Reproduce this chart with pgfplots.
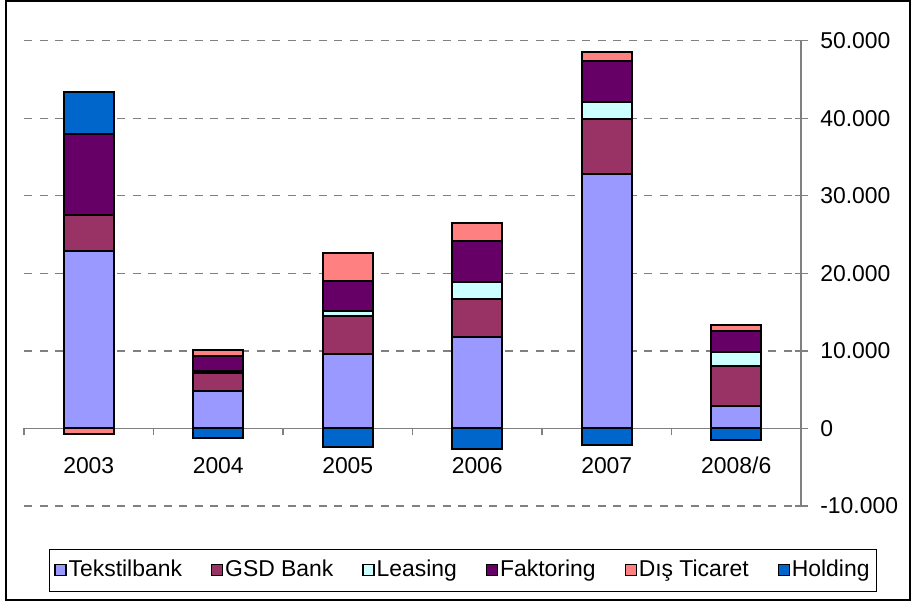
\documentclass[border=0pt]{standalone}
\usepackage{pgfplots}
\pgfplotsset{compat=1.18}
\usepackage{fontspec}
\setmainfont{Liberation Sans}
\definecolor{ctek}{HTML}{9999FF}
\definecolor{cgsd}{HTML}{993366}
\definecolor{cleas}{HTML}{CCFFFF}
\definecolor{cfakt}{HTML}{660066}
\definecolor{cdis}{HTML}{FF8080}
\definecolor{chold}{HTML}{0066CC}
\definecolor{axgray}{HTML}{808080}
\pgfplotsset{
  common/.style={
    at={(24bp,-506bp)}, anchor=south west,
    scale only axis, width=777bp, height=465.3bp,
    xmin=-0.5, xmax=5.5, ymin=-10000, ymax=50000,
    ybar stacked, bar width=50bp,
  },
  barstyle/.style={draw=black, line width=2bp, fill=#1},
}
\begin{document}
\fontsize{23}{27}\selectfont
\begin{tikzpicture}
\useasboundingbox (0bp,0bp) rectangle (911bp,-604bp);
\draw[line width=1.5bp] (6bp,-1bp) rectangle (910bp,-600bp);
\begin{axis}[
  common,
  axis x line*=middle, axis y line*=right,
  axis line style={draw=axgray, line width=1.2bp},
  xtick={0,1,2,3,4,5},
  xticklabels={2003,2004,2005,2006,2007,2008/6},
  major x tick style={draw=none},
  minor xtick={-0.5,0.5,1.5,2.5,3.5,4.5,5.5},
  minor x tick style={draw=axgray, line width=1.2bp},
  minor tick length=7bp,
  xtick align=outside,
  xticklabel style={font=\fontsize{23}{27}\selectfont, yshift=-8bp},
  scaled y ticks=false,
  ytick={-10000,0,10000,20000,30000,40000,50000},
  yticklabels={-10.000,0,10.000,20.000,30.000,40.000,50.000},
  ytick align=center, major tick length=13bp,
  y tick style={draw=axgray, line width=1.2bp},
  yticklabel style={font=\fontsize{23}{27}\selectfont, xshift=5bp},
  ymajorgrids,
  major grid style={draw=axgray, line width=1.2bp, dash pattern=on 8bp off 7.5bp},
  legend columns=6,
  legend style={at={(0.565,-0.1376)}, anchor=center, draw=black, line width=1bp,
    font=\fontsize{23}{27}\selectfont, inner xsep=5bp, inner ysep=9bp,
    /tikz/every even column/.append style={column sep=27bp}},
  legend image code/.code={\draw[#1, draw=black, line width=1.2bp] (0bp,-5.5bp) rectangle (11bp,5.5bp);},
]
\addplot[barstyle=ctek] coordinates {(0,22940) (1,4770) (2,9660) (3,11820) (4,32860) (5,2890)};
\addplot[barstyle=cgsd] coordinates {(0,4600) (1,2370) (2,4860) (3,4860) (4,7050) (5,5100)};
\addplot[barstyle=cleas] coordinates {(0,0) (1,300) (2,680) (3,2190) (4,2150) (5,1860)};
\addplot[barstyle=cfakt] coordinates {(0,10440) (1,1930) (2,3870) (3,5320) (4,5360) (5,2710)};
\addplot[barstyle=cdis] coordinates {(0,0) (1,730) (2,3610) (3,2360) (4,1160) (5,720)};
\addplot[barstyle=chold] coordinates {(0,5370) (1,0) (2,0) (3,0) (4,0) (5,0)};
\legend{Tekstilbank,GSD Bank,Leasing,Faktoring,Dış Ticaret,Holding}
\end{axis}
\begin{axis}[common, hide axis]
\addplot[barstyle=cdis] coordinates {(0,-720) (1,0) (2,0) (3,0) (4,0) (5,0)};
\addplot[barstyle=chold] coordinates {(0,0) (1,-1240) (2,-2400) (3,-2650) (4,-2150) (5,-1460)};
\end{axis}
\end{tikzpicture}
\end{document}
